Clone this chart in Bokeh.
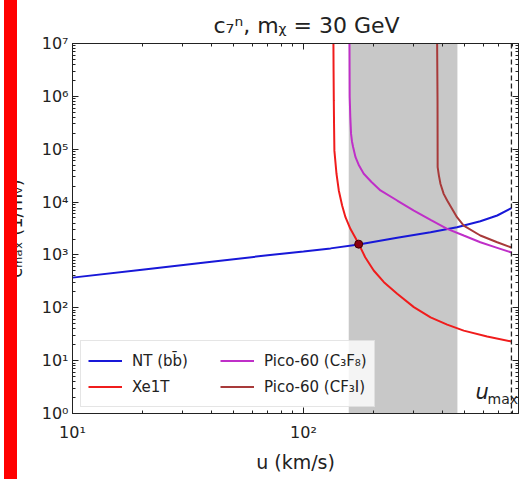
from math import pi
from bokeh.plotting import figure
from bokeh.models import (FixedTicker, LogAxis, Label, Span, BoxAnnotation, Legend,
                          LegendItem, CustomJSTickFormatter, InlineStyleSheet, Range1d)
from bokeh.embed import file_html
from bokeh.resources import INLINE

# ---------------- data ----------------
nt_u = [10, 20, 40, 70, 100, 131, 173.4, 254.5, 355, 462, 583, 690, 795]
nt_c = [372, 526, 744, 984, 1165, 1330, 1580, 2110, 2690, 3350, 4340, 5570, 7650]

xe_u = [134.8, 135.0, 135.3, 135.7, 136.1, 139, 142.2, 147, 152, 159.6, 173.4, 185, 201.4,
        223, 254.5, 300.5, 355, 419, 494, 624, 795]
xe_c = [1e7, 3e6, 8.3e5, 2.5e5, 9.4e4, 3.4e4, 1.66e4, 8600, 5170, 3120, 1622, 906, 507,
        305, 184, 103, 66, 48, 37, 28.6, 23]

c3f8_u = [158.2, 158.5, 159.5, 160.7, 162.2, 164, 168, 174, 182.4, 197, 215.4, 254.5, 300.6,
          355, 419, 494, 583, 690, 795]
c3f8_c = [1e7, 1e6, 4e5, 1.95e5, 1.4e5, 1.1e5, 7.06e4, 4.9e4, 3.43e4, 2.4e4, 1.66e4, 1.07e4,
          6920, 4610, 3120, 2330, 1740, 1362, 1110]

cf3i_u = [379, 380.5, 381, 385.6, 392, 404.6, 419, 462, 494, 583, 690, 795]
cf3i_c = [1e7, 8.3e5, 4.6e4, 3.2e4, 2.2e4, 1.43e4, 1.07e4, 5170, 3600, 2330, 1740, 1380]

cross_u = [173.4]
cross_c = [1600]

band_lo = 157
band_hi = 464
u_max = 795

x_major = [10, 100]
x_minor = [20, 30, 40, 50, 60, 70, 80, 90, 200, 300, 400, 500, 600, 700, 800]
x_labels = {10: "10¹", 100: "10²"}
y_major = [1, 10, 100, 1000, 10**4, 10**5, 10**6, 10**7]
y_labels = {1: "10⁰", 10: "10¹", 100: "10²", 1000: "10³", 10**4: "10⁴",
            10**5: "10⁵", 10**6: "10⁶", 10**7: "10⁷"}
y_minor = [m * d for d in [1, 10, 100, 1000, 10**4, 10**5, 10**6] for m in range(2, 10)]

title_text = "c₇ⁿ, mᵪ = 30 GeV"
x_title = "u (km/s)"
y_title = "cₘₐₓ (1/mᵥ)"

FONT = "DejaVu Sans"
INK = "#222222"
C_NT = "#1818d8"
C_XE = "#f01c1c"
C_C3 = "#bf2fc8"
C_CF = "#a83a3a"

p = figure(width=525, height=479, x_axis_type="log", y_axis_type="log",
           x_range=Range1d(10, 853), y_range=Range1d(1, 1e7),
           output_backend="svg", toolbar_location=None,
           min_border_left=72, min_border_right=7, min_border_top=43, min_border_bottom=66)
p.xgrid.visible = False
p.ygrid.visible = False
p.outline_line_color = INK
p.background_fill_color = "white"
p.border_fill_color = "white"

p.title.text = title_text
p.title.text_font = FONT
p.title.text_font_size = "22px"
p.title.text_font_style = "normal"
p.title.text_color = INK
p.title.align = "left"
p.title.offset = 141
p.title.standoff = 11


def style_axis(ax, ticks, minor, labels, show):
    ax.ticker = FixedTicker(ticks=ticks, minor_ticks=minor)
    ax.major_tick_in = 6
    ax.major_tick_out = 0
    ax.minor_tick_in = 3
    ax.minor_tick_out = 0
    ax.axis_line_color = INK
    ax.major_tick_line_color = INK
    ax.minor_tick_line_color = INK
    if show:
        ax.major_label_overrides = labels
        ax.major_label_text_font = FONT
        ax.major_label_text_font_size = "16px"
        ax.major_label_text_color = INK
    else:
        ax.formatter = CustomJSTickFormatter(code="return ''")
        ax.major_label_text_font_size = "1px"


style_axis(p.xaxis[0], x_major, x_minor, x_labels, True)
p.xaxis[0].major_label_standoff = 9
p.xaxis[0].axis_label = x_title
p.xaxis[0].axis_label_text_font = FONT
p.xaxis[0].axis_label_text_font_size = "19px"
p.xaxis[0].axis_label_text_font_style = "normal"
p.xaxis[0].axis_label_text_color = INK
p.xaxis[0].axis_label_standoff = 6

style_axis(p.yaxis[0], y_major, y_minor, y_labels, True)
p.yaxis[0].major_label_standoff = 4
p.yaxis[0].axis_label = y_title
p.yaxis[0].axis_label_text_font = FONT
p.yaxis[0].axis_label_text_font_size = "18px"
p.yaxis[0].axis_label_text_font_style = "normal"
p.yaxis[0].axis_label_text_color = INK
p.yaxis[0].axis_label_standoff = 13

top = LogAxis()
style_axis(top, x_major, x_minor, x_labels, False)
top.major_label_standoff = 0
p.add_layout(top, "above")
right = LogAxis()
style_axis(right, y_major, y_minor, y_labels, False)
right.major_label_standoff = 0
p.add_layout(right, "right")

# gray band
p.add_layout(BoxAnnotation(left=band_lo, right=band_hi, fill_color="#c8c8c8", fill_alpha=1.0,
                           line_alpha=0, level="underlay"))

r_nt = p.line(nt_u, nt_c, line_color=C_NT, line_width=2)
r_xe = p.line(xe_u, xe_c, line_color=C_XE, line_width=2)
r_c3 = p.line(c3f8_u, c3f8_c, line_color=C_C3, line_width=2)
r_cf = p.line(cf3i_u, cf3i_c, line_color=C_CF, line_width=2)
p.scatter(cross_u, cross_c, size=8, fill_color="#8b0010", line_color="#400000", line_width=1)

p.add_layout(Span(location=u_max, dimension="height", line_color=INK,
                  line_dash="5 3", line_width=1.3))

legend = Legend(items=[LegendItem(label="NT (bb̄)", renderers=[r_nt]),
                       LegendItem(label="Xe1T", renderers=[r_xe]),
                       LegendItem(label="Pico-60 (C₃F₈)", renderers=[r_c3]),
                       LegendItem(label="Pico-60 (CF₃I)", renderers=[r_cf])],
                location=(8, 6), orientation="vertical", nrows=2)
legend.label_text_font = FONT
legend.label_text_font_size = "15px"
legend.label_text_color = INK
legend.glyph_width = 34
legend.glyph_height = 25
legend.label_height = 25
legend.label_width = 87
legend.label_standoff = 10
legend.spacing = 1
legend.padding = 7
legend.margin = 0
legend.background_fill_color = "white"
legend.background_fill_alpha = 0.8
legend.border_line_color = "#cccccc"
legend.border_line_width = 1
p.add_layout(legend)

# u_max label (inside the frame, screen units from the frame's bottom-left)
p.add_layout(Label(x=403, y=10, x_units="screen", y_units="screen", text="u",
                   text_font=FONT, text_font_size="21px", text_font_style="italic",
                   text_color=INK))
p.add_layout(Label(x=415, y=7, x_units="screen", y_units="screen", text="max",
                   text_font=FONT, text_font_size="14px", text_color=INK))

p.stylesheets = [InlineStyleSheet(css=":host{position:relative;} :host::after{content:'';position:absolute;left:4px;top:0;width:13px;height:100%;background:#ff0000;z-index:10;pointer-events:none;}")]

open("out.html", "w").write(file_html(p, INLINE))
